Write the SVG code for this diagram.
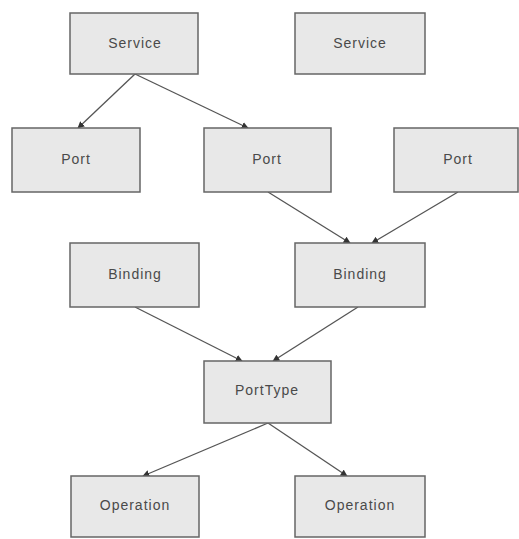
<svg xmlns="http://www.w3.org/2000/svg" width="519" height="539" viewBox="0 0 519 539">
  <style>
    .box { fill: #e8e8e8; stroke: #666; stroke-width: 1.5; }
    .lbl { font-family: "Liberation Sans", Arial, sans-serif; font-size: 14px; letter-spacing: 1px; fill: #4a4a4a; text-anchor: middle; dominant-baseline: central; }
    .edge { stroke: #555; stroke-width: 1.3; fill: none; marker-end: url(#head); }
  </style>
  <defs>
    <marker id="head" viewBox="0 0 10 10" refX="9" refY="5" markerWidth="7" markerHeight="7" orient="auto" markerUnits="userSpaceOnUse">
      <path d="M0,0 L10,5 L0,10 z" fill="#333"/>
    </marker>
  </defs>
  <rect width="519" height="539" fill="#fff"/>

  <g id="connectors">
    <line class="edge" x1="135" y1="74" x2="78" y2="128"/>
    <line class="edge" x1="135" y1="74" x2="248" y2="128"/>
    <line class="edge" x1="268" y1="192" x2="350" y2="243"/>
    <line class="edge" x1="458" y1="192" x2="372" y2="243"/>
    <line class="edge" x1="135" y1="307" x2="242" y2="361"/>
    <line class="edge" x1="358" y1="307" x2="273" y2="361"/>
    <line class="edge" x1="268" y1="423" x2="143" y2="476"/>
    <line class="edge" x1="268" y1="423" x2="347" y2="476"/>
  </g>

  <g id="service1"><rect class="box" x="70" y="13" width="128" height="61"/><text class="lbl" x="135" y="43">Service</text></g>
  <g id="service2"><rect class="box" x="295" y="13" width="130" height="61"/><text class="lbl" x="360" y="43">Service</text></g>
  <g id="port1"><rect class="box" x="12" y="128" width="128" height="64"/><text class="lbl" x="76" y="159">Port</text></g>
  <g id="port2"><rect class="box" x="204" y="128" width="127" height="64"/><text class="lbl" x="267" y="159">Port</text></g>
  <g id="port3"><rect class="box" x="394" y="128" width="124" height="64"/><text class="lbl" x="458" y="159">Port</text></g>
  <g id="binding1"><rect class="box" x="70" y="243" width="129" height="64"/><text class="lbl" x="135" y="274">Binding</text></g>
  <g id="binding2"><rect class="box" x="295" y="243" width="130" height="64"/><text class="lbl" x="360" y="274">Binding</text></g>
  <g id="porttype"><rect class="box" x="204" y="361" width="127" height="62"/><text class="lbl" x="267" y="390">PortType</text></g>
  <g id="operation1"><rect class="box" x="71" y="476" width="128" height="61"/><text class="lbl" x="135" y="505">Operation</text></g>
  <g id="operation2"><rect class="box" x="295" y="476" width="130" height="61"/><text class="lbl" x="360" y="505">Operation</text></g>
</svg>
